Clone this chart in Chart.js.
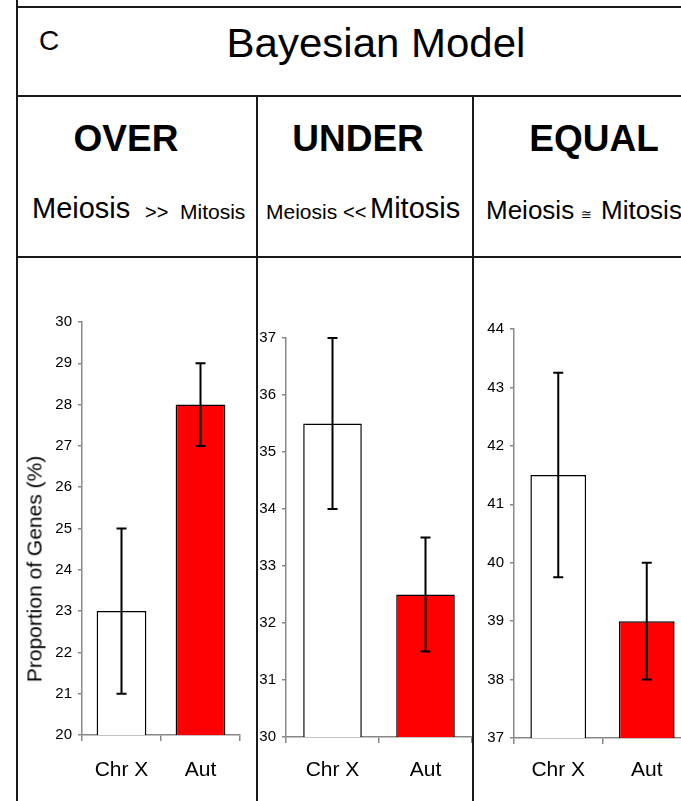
<!DOCTYPE html>
<html>
<head>
<meta charset="utf-8">
<script src="https://cdn.jsdelivr.net/npm/chart.js@4.4.1/dist/chart.umd.min.js"></script>
<style>
body { margin: 0; background: #fff; }
#page { position: relative; width: 681px; height: 801px; overflow: hidden; font-family: "Liberation Sans", Arial, sans-serif; color: #000; background: #fff; }
.line { position: absolute; background: #1a1a1a; z-index: 2; }
.txt { position: absolute; line-height: 1; white-space: nowrap; z-index: 3; }
canvas { position: absolute; z-index: 1; }
</style>
</head>
<body>
<div id="page">
  <div class="line" style="left:16px;top:0;width:2px;height:801px"></div>
  <div class="line" style="left:16px;top:6px;width:665px;height:2px"></div>
  <div class="line" style="left:16px;top:95px;width:665px;height:2px"></div>
  <div class="line" style="left:16px;top:256px;width:665px;height:2px"></div>
  <div class="line" style="left:256px;top:95px;width:2px;height:706px"></div>
  <div class="line" style="left:472px;top:95px;width:2px;height:706px"></div>

  <canvas id="overChart" width="238" height="542" style="left:18px;top:259px"></canvas>
  <canvas id="underChart" width="214" height="542" style="left:258px;top:259px"></canvas>
  <canvas id="equalChart" width="217" height="542" style="left:474px;top:259px"></canvas>

  <div class="txt" style="font-size:21px;left:33.7px;top:569px;transform:translate(-50%,-50%) rotate(-90deg)">Proportion of Genes (%)</div>
</div>
<script>
// chart data
var categories = ['Chr X', 'Aut'];
var barColors = ['#ffffff', '#ff0000'];

var overValues = [23, 28];
var overLow = [21, 27];
var overHigh = [25, 29];
var overRange = [20, 30];

var underValues = [35.5, 32.5];
var underLow = [34, 31.5];
var underHigh = [37, 33.5];
var underRange = [30, 37];

var equalValues = [41.5, 39];
var equalLow = [39.75, 38];
var equalHigh = [43.25, 40];
var equalRange = [37, 44];

var page = document.getElementById('page');

function addText(text, x, baseline, size, opts) {
	opts = opts || {};
	var el = document.createElement('div');
	el.className = 'txt';
	el.textContent = text;
	el.style.fontSize = size + 'px';
	el.style.left = x + 'px';
	el.style.top = (baseline - 0.8465 * size) + 'px';
	var transform = '';
	if (opts.center) {
		transform += 'translateX(-50%) ';
	}
	if (opts.stretch) {
		transform += 'scaleX(' + opts.stretch + ')';
	}
	if (transform) {
		el.style.transform = transform;
	}
	if (opts.bold) {
		el.style.fontWeight = 'bold';
	}
	if (opts.family) {
		el.style.fontFamily = opts.family;
	}
	page.appendChild(el);
}

addText('C', 39, 51, 28);
addText('Bayesian Model', 376, 57, 40, {center: true, stretch: 1.05});

addText('OVER', 126, 151, 37, {center: true, bold: true});
addText('UNDER', 358, 151, 37, {center: true, bold: true});
addText('EQUAL', 594, 151, 37, {center: true, bold: true});

addText('Meiosis', 32, 219, 29);
addText('>>', 145, 219, 20);
addText('Mitosis', 180, 219, 21);

addText('Meiosis', 266, 219, 21);
addText('<<', 343, 219, 20);
addText('Mitosis', 370, 219, 29);

addText('Meiosis', 486, 219, 26);
addText('\u2245', 581, 219, 13, {family: '"DejaVu Sans", sans-serif'});
addText('Mitosis', 601, 219, 26);

var errorBarPlugin = {
	id: 'errorBars',
	afterDatasetsDraw: function (chart, args, opts) {
		var ctx = chart.ctx;
		var yScale = chart.scales.y;
		var meta = chart.getDatasetMeta(0);
		ctx.save();
		ctx.strokeStyle = '#000';
		ctx.lineWidth = 2;
		for (var i = 0; i < meta.data.length; i++) {
			var bar = meta.data[i];
			var top = yScale.getPixelForValue(opts.high[i]);
			var bottom = yScale.getPixelForValue(opts.low[i]);
			ctx.beginPath();
			ctx.moveTo(bar.x, top);
			ctx.lineTo(bar.x, bottom);
			ctx.moveTo(bar.x - 5, top);
			ctx.lineTo(bar.x + 5, top);
			ctx.moveTo(bar.x - 5, bottom);
			ctx.lineTo(bar.x + 5, bottom);
			ctx.stroke();
		}
		ctx.restore();
	}
};

function makeChart(id, values, lows, highs, range, box) {
	return new Chart(document.getElementById(id), {
		type: 'bar',
		data: {
			labels: categories,
			datasets: [{
				data: values,
				backgroundColor: barColors,
				borderColor: '#000',
				borderWidth: 1.5,
				borderSkipped: false,
				barPercentage: 0.63,
				categoryPercentage: 1
			}]
		},
		options: {
			responsive: false,
			animation: false,
			devicePixelRatio: 1,
			layout: {padding: {top: box.top, right: box.right, left: 0, bottom: 0}},
			plugins: {
				legend: {display: false},
				tooltip: {enabled: false},
				errorBars: {low: lows, high: highs}
			},
			scales: {
				x: {
					grid: {drawOnChartArea: false, color: '#888', lineWidth: 1.5, tickLength: 6},
					border: {color: '#888', width: 1.5},
					ticks: {color: '#000', font: {family: '"Liberation Sans", Arial, sans-serif', size: 21}, padding: box.labelPad},
					afterFit: function (s) { s.height = box.xHeight; }
				},
				y: {
					min: range[0],
					max: range[1],
					grid: {drawOnChartArea: false, color: '#888', lineWidth: 1.5, tickLength: 4},
					border: {color: '#888', width: 1.5},
					ticks: {stepSize: 1, color: '#000', font: {family: '"Liberation Sans", Arial, sans-serif', size: 15}, padding: 6},
					afterFit: function (s) { s.width = box.yWidth; }
				}
			}
		},
		plugins: [errorBarPlugin]
	});
}

makeChart('overChart', overValues, overLow, overHigh, overRange,
	{top: 63, right: 16, yWidth: 64, xHeight: 66, labelPad: 17});
makeChart('underChart', underValues, underLow, underHigh, underRange,
	{top: 79, right: 0, yWidth: 28, xHeight: 64, labelPad: 15});
makeChart('equalChart', equalValues, equalLow, equalHigh, equalRange,
	{top: 70, right: 0, yWidth: 40, xHeight: 63, labelPad: 14});
</script>
</body>
</html>
